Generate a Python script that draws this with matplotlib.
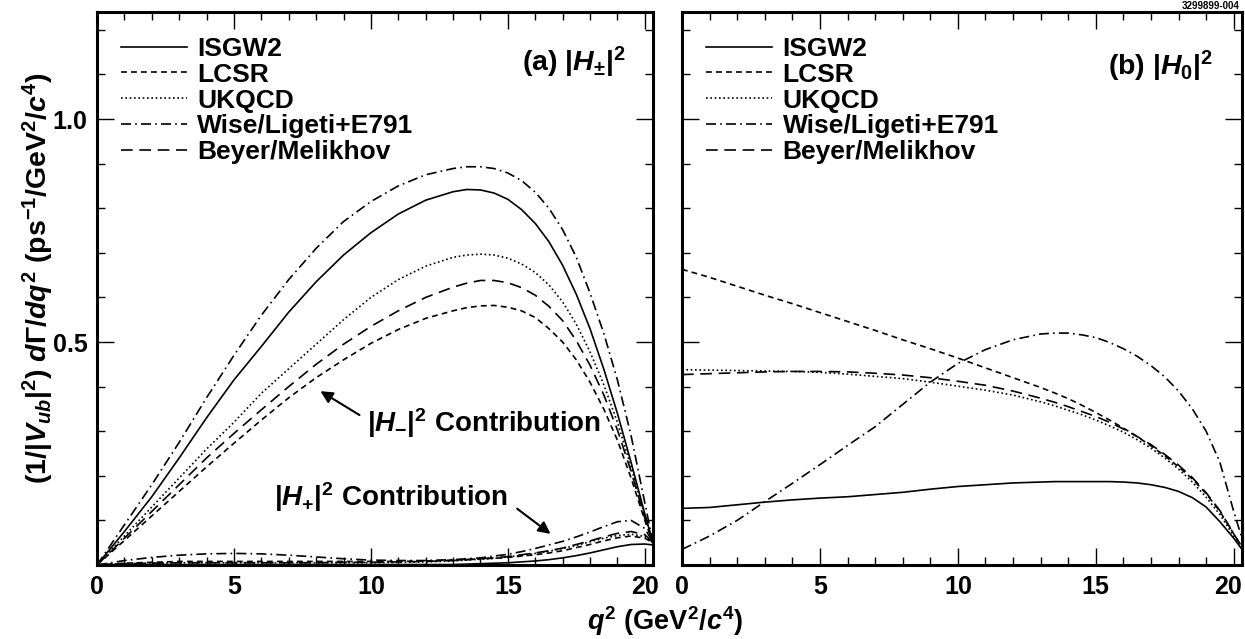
import matplotlib
matplotlib.use('Agg')
import matplotlib.pyplot as plt
from matplotlib.ticker import MultipleLocator, FixedLocator
import matplotlib.transforms as mtransforms
import numpy as np

plt.rcParams['font.family'] = ['Liberation Sans', 'DejaVu Sans']
plt.rcParams['font.weight'] = 'bold'
plt.rcParams['mathtext.fontset'] = 'custom'
plt.rcParams['mathtext.rm'] = 'Liberation Sans:bold'
plt.rcParams['mathtext.it'] = 'Liberation Sans:bold:italic'
plt.rcParams['mathtext.bf'] = 'Liberation Sans:bold'

# q^2 grid (GeV^2/c^4)
q2 = [0, 1, 2, 3, 4, 5, 6, 7, 8, 9, 10, 11, 12, 13, 13.5, 14, 14.5, 15, 15.5,
      16, 16.5, 17, 17.5, 18, 18.5, 19, 19.5, 20, 20.3]

models = ['ISGW2', 'LCSR', 'UKQCD', 'Wise/Ligeti+E791', 'Beyer/Melikhov']

# (a) |H-|^2 contribution
hm_isgw2 = [0, 0.075, 0.153, 0.24, 0.33, 0.415, 0.49, 0.567, 0.635, 0.695, 0.745, 0.787, 0.818, 0.837,
            0.842, 0.841, 0.834, 0.82, 0.797, 0.766, 0.725, 0.672, 0.607, 0.53, 0.44, 0.34, 0.23, 0.115, 0.05]
hm_lcsr = [0, 0.055, 0.11, 0.165, 0.22, 0.273, 0.325, 0.375, 0.42, 0.46, 0.497, 0.528, 0.553, 0.57,
           0.577, 0.581, 0.582, 0.578, 0.57, 0.555, 0.53, 0.5, 0.46, 0.41, 0.35, 0.28, 0.195, 0.1, 0.05]
hm_ukqcd = [0, 0.065, 0.13, 0.195, 0.26, 0.32, 0.385, 0.44, 0.495, 0.55, 0.6, 0.64, 0.67, 0.69,
            0.695, 0.697, 0.695, 0.688, 0.675, 0.656, 0.628, 0.59, 0.54, 0.478, 0.405, 0.32, 0.22, 0.11, 0.05]
hm_wise = [0, 0.09, 0.18, 0.275, 0.375, 0.47, 0.56, 0.64, 0.71, 0.77, 0.815, 0.85, 0.875, 0.889,
           0.893, 0.893, 0.889, 0.879, 0.862, 0.836, 0.8, 0.752, 0.69, 0.61, 0.52, 0.415, 0.29, 0.14, 0.05]
hm_beyer = [0, 0.06, 0.12, 0.18, 0.24, 0.295, 0.348, 0.4, 0.45, 0.495, 0.535, 0.57, 0.6, 0.623,
            0.632, 0.638, 0.638, 0.633, 0.622, 0.605, 0.58, 0.548, 0.503, 0.448, 0.382, 0.303, 0.21, 0.105, 0.05]

# (a) |H+|^2 contribution
hp_isgw2 = [0, 0.001, 0.001, 0.001, 0.001, 0.001, 0.001, 0.001, 0.001, 0.001, 0.001, 0.001, 0.001, 0.001,
            0.002, 0.003, 0.004, 0.005, 0.007, 0.009, 0.012, 0.016, 0.021, 0.027, 0.034, 0.041, 0.046, 0.047, 0.045]
hp_lcsr = [0, 0.004, 0.006, 0.008, 0.008, 0.008, 0.008, 0.008, 0.008, 0.008, 0.008, 0.008, 0.009, 0.011,
           0.012, 0.014, 0.015, 0.017, 0.02, 0.023, 0.027, 0.032, 0.039, 0.046, 0.054, 0.061, 0.065, 0.06, 0.05]
hp_ukqcd = [0, 0.003, 0.004, 0.005, 0.005, 0.005, 0.005, 0.005, 0.005, 0.005, 0.005, 0.006, 0.007, 0.009,
            0.011, 0.013, 0.015, 0.018, 0.022, 0.026, 0.031, 0.037, 0.044, 0.052, 0.06, 0.066, 0.069, 0.064, 0.05]
hp_wise = [0, 0.01, 0.017, 0.022, 0.025, 0.026, 0.025, 0.022, 0.018, 0.014, 0.011, 0.01, 0.01, 0.012,
           0.014, 0.016, 0.02, 0.024, 0.03, 0.037, 0.045, 0.053, 0.063, 0.074, 0.086, 0.097, 0.1, 0.082, 0.05]
hp_beyer = [0, 0.003, 0.004, 0.005, 0.005, 0.005, 0.005, 0.005, 0.005, 0.006, 0.006, 0.007, 0.008, 0.01,
            0.012, 0.014, 0.016, 0.019, 0.023, 0.027, 0.032, 0.038, 0.046, 0.054, 0.063, 0.071, 0.075, 0.068, 0.05]

# (b) |H0|^2
h0_isgw2 = [0.127, 0.129, 0.135, 0.141, 0.146, 0.15, 0.153, 0.158, 0.163, 0.17, 0.176, 0.18, 0.184, 0.186,
            0.187, 0.187, 0.187, 0.187, 0.187, 0.186, 0.184, 0.18, 0.174, 0.165, 0.151, 0.13, 0.097, 0.06, 0.035]
h0_lcsr = [0.663, 0.645, 0.625, 0.605, 0.586, 0.566, 0.546, 0.526, 0.505, 0.485, 0.464, 0.442, 0.42, 0.398,
           0.386, 0.373, 0.358, 0.342, 0.325, 0.307, 0.288, 0.267, 0.245, 0.22, 0.193, 0.16, 0.12, 0.07, 0.04]
h0_ukqcd = [0.438, 0.437, 0.436, 0.435, 0.434, 0.432, 0.428, 0.423, 0.418, 0.41, 0.401, 0.392, 0.381, 0.366,
            0.357, 0.347, 0.337, 0.325, 0.312, 0.298, 0.281, 0.262, 0.24, 0.215, 0.186, 0.152, 0.113, 0.065, 0.04]
h0_wise = [0.035, 0.065, 0.1, 0.142, 0.183, 0.225, 0.268, 0.31, 0.36, 0.41, 0.452, 0.483, 0.505, 0.518,
           0.52, 0.52, 0.516, 0.51, 0.499, 0.485, 0.468, 0.447, 0.422, 0.39, 0.35, 0.3, 0.23, 0.12, 0.06]
h0_beyer = [0.427, 0.429, 0.431, 0.433, 0.434, 0.434, 0.433, 0.43, 0.426, 0.42, 0.412, 0.403, 0.39, 0.374,
            0.365, 0.355, 0.344, 0.333, 0.32, 0.305, 0.288, 0.27, 0.248, 0.224, 0.196, 0.162, 0.122, 0.07, 0.04]

styles = ['-', (0, (3.5, 2.5)), (0, (1, 1.6)), (0, (6, 2.5, 1, 2.5)), (0, (7, 4))]

W, H = 1245, 639
fig = plt.figure(figsize=(W / 100, H / 100), dpi=100)
ax1 = fig.add_axes([97 / W, 1 - 565 / H, (653 - 97) / W, (565 - 12) / H])
ax2 = fig.add_axes([682 / W, 1 - 565 / H, (1242 - 682) / W, (565 - 12) / H])

upper = [hm_isgw2, hm_lcsr, hm_ukqcd, hm_wise, hm_beyer]
lower = [hp_isgw2, hp_lcsr, hp_ukqcd, hp_wise, hp_beyer]
zero = [h0_isgw2, h0_lcsr, h0_ukqcd, h0_wise, h0_beyer]

kw = dict(color='black', lw=1.2, solid_joinstyle='round', dash_joinstyle='round')
for i in range(5):
    ax1.plot(q2, upper[i], ls=styles[i], label=models[i], **kw)
    ax1.plot(q2, lower[i], ls=styles[i], **kw)
    ax2.plot(q2, zero[i], ls=styles[i], label=models[i], **kw)

for ax in (ax1, ax2):
    ax.set_xlim(0, 20.3)
    ax.set_ylim(0, 1.24)
    ax.xaxis.set_major_locator(FixedLocator([0, 5, 10, 15, 20]))
    ax.xaxis.set_minor_locator(MultipleLocator(1))
    ax.yaxis.set_major_locator(FixedLocator([0.5, 1.0]))
    ax.yaxis.set_minor_locator(MultipleLocator(0.1))
    ax.tick_params(which='both', direction='in', top=True, right=True, width=1.0)
    ax.tick_params(which='major', length=12, labelsize=18, pad=7)
    ax.tick_params(which='minor', length=6)
    for s in ax.spines.values():
        s.set_linewidth(2.2)
    ax.legend(loc='upper left', bbox_to_anchor=(0.043, 0.955), frameon=False,
              fontsize=19, handlelength=2.5, handletextpad=0.4,
              labelspacing=0.07, borderpad=0, borderaxespad=0)

ax2.set_yticklabels([])
# last tick label of panel (b) right-aligned so it stays inside the figure
ax2.set_xticklabels(['0', '5', '10', '15', ''])
ax2.text(20.3, -0.018, '20', ha='right', va='top', fontsize=18,
         transform=mtransforms.blended_transform_factory(ax2.transData, ax2.transAxes))

ax1.text(0.95, 0.908, r'(a) $|H_{\pm}|^2$', transform=ax1.transAxes, ha='right', va='center', fontsize=20.5)
ax2.text(0.948, 0.902, r'(b) $|H_0|^2$', transform=ax2.transAxes, ha='right', va='center', fontsize=20.5)

ax1.annotate('', xy=(8.07, 0.393), xytext=(9.67, 0.333),
             arrowprops=dict(arrowstyle='-|>', color='black', lw=1.5, mutation_scale=18))
ax1.text(9.85, 0.319, r'$|H_{-}|^2$ Contribution', ha='left', va='center', fontsize=20)
ax1.annotate('', xy=(16.64, 0.066), xytext=(15.26, 0.13),
             arrowprops=dict(arrowstyle='-|>', color='black', lw=1.5, mutation_scale=18))
ax1.text(6.46, 0.153, r'$|H_{+}|^2$ Contribution', ha='left', va='center', fontsize=20)

fig.text(38 / W, 1 - 278 / H,
         r'(1/|$V_{ub}$|$^2$) $d\Gamma/dq^2$ (ps$^{-1}$/GeV$^2$/$c^4$)',
         rotation=90, ha='center', va='center', fontsize=20.5)
fig.text(665 / W, 1 - 621 / H, r'$q^2$ (GeV$^2$/$c^4$)', ha='center', va='center', fontsize=19.5)
fig.text(1240 / W, 1 - 1 / H, '3299899-004', ha='right', va='top', fontsize=7)

fig.savefig('out.png', dpi=100)
